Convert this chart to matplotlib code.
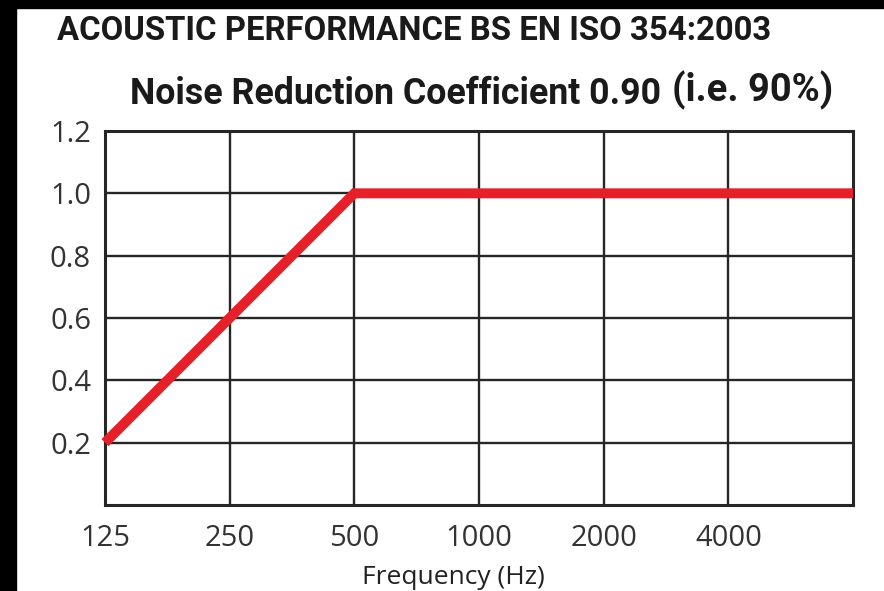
import matplotlib
matplotlib.use("Agg")
import matplotlib.pyplot as plt
from matplotlib.patches import Rectangle

freq_labels = ["125", "250", "500", "1000", "2000", "4000"]
# absorption coefficient at each plotted point (band index positions)
point_index = [0, 2, 6]
absorption = [0.2, 1.0, 1.0]
y_ticks = [0.2, 0.4, 0.6, 0.8, 1.0, 1.2]
y_tick_labels = ["0.2", "0.4", "0.6", "0.8", "1.0", "1.2"]

W, H = 884, 591
fig = plt.figure(figsize=(W / 100, H / 100), dpi=100)
fig.patch.set_facecolor("white")

# black borders from the scanned image
fig.patches.append(Rectangle((0, 0), 16 / W, 1, transform=fig.transFigure, color="black", zorder=0))
fig.patches.append(Rectangle((0, 1 - 8 / H), 1, 8 / H, transform=fig.transFigure, color="black", zorder=0))

ax = fig.add_axes([105 / W, 1 - 505 / H, (853 - 105) / W, (505 - 131) / H])
ax.set_xlim(0, 6)
ax.set_ylim(0, 1.2)

grid_c = "#262626"
for x in range(1, 6):
    ax.axvline(x, color=grid_c, lw=1.7, zorder=1)
for y in y_ticks[:-1]:
    ax.axhline(y, color=grid_c, lw=1.7, zorder=1)

ax.plot(point_index, absorption, color="#e5202a", lw=7.2, solid_capstyle="butt",
        solid_joinstyle="miter", zorder=3, clip_on=False)

for s in ax.spines.values():
    s.set_color(grid_c)
    s.set_linewidth(2.2)

tick_font = dict(family=["Open Sans", "DejaVu Sans"], size=21, color="#333333")
ax.set_xticks(range(len(freq_labels)))
ax.set_xticklabels(freq_labels, **tick_font)
ax.set_yticks(y_ticks)
ax.set_yticklabels(y_tick_labels, **tick_font)
ax.tick_params(axis="x", length=0, pad=14)
ax.tick_params(axis="y", length=0, pad=10)
ax.set_xlabel("Frequency (Hz)", family=["Open Sans", "DejaVu Sans"], size=19,
              color="#222222")
ax.xaxis.set_label_coords((453 - 105) / (853 - 105), -(578 - 505) / (505 - 131))
ax.xaxis.label.set_va("center")

title_font = ["Roboto", "DejaVu Sans"]
renderer = fig.canvas.get_renderer()


def fit_text(x0, yc, s, target_w, size, ha="left"):
    t = fig.text(x0 / W, 1 - yc / H, s, family=title_font, size=size,
                 weight="bold", color="#1a1a1a", ha=ha, va="center")
    w = t.get_window_extent(renderer).width
    t.set_fontsize(size * target_w / w)
    return t


fit_text(57, 31, "ACOUSTIC PERFORMANCE BS EN ISO 354:2003", 713, 20)
fit_text(130, 94, "Noise Reduction Coefficient 0.90", 532, 22)
fit_text(833, 90, "(i.e. 90%)", 161, 22, ha="right")

fig.savefig("out.png", dpi=100, facecolor="white")
